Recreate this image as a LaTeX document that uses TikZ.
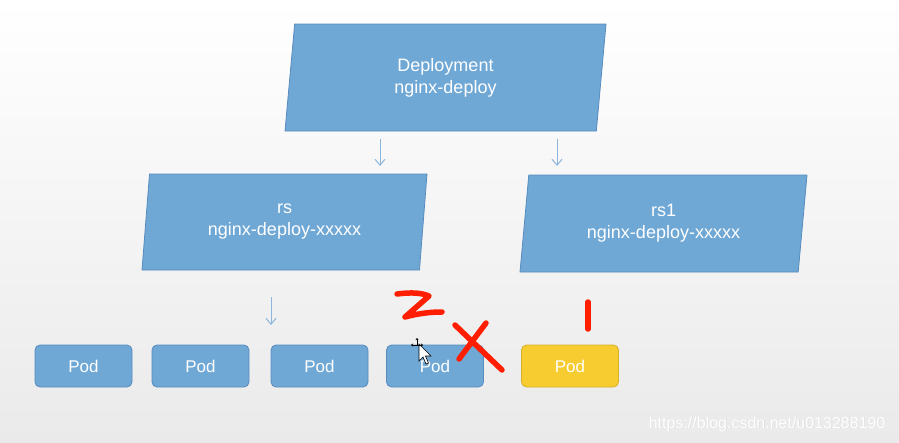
\documentclass[tikz,border=0pt]{standalone}
\usepackage{fontspec}
\setmainfont{Liberation Sans}
\setsansfont{Liberation Sans}
\usetikzlibrary{arrows.meta,shapes.geometric,positioning}

\definecolor{boxblue}{RGB}{111,167,213}
\definecolor{boxedge}{RGB}{88,140,190}
\definecolor{podyellow}{RGB}{246,204,48}
\definecolor{podedge}{RGB}{214,176,40}
\definecolor{arrowblue}{RGB}{140,182,222}
\definecolor{penred}{RGB}{255,30,0}
\definecolor{bgbottom}{RGB}{234,234,234}

\begin{document}
\begin{tikzpicture}[x=1pt,y=-1pt]
\tikzset{
  ctrlnode/.style={trapezium,trapezium left angle=#1,trapezium right angle={180-#1},
    trapezium stretches body,fill=boxblue,draw=boxedge,line width=0.8pt,inner sep=0pt,outer sep=0pt,
    text=white,align=center,font=\sffamily\fontsize{18}{22}\selectfont},
  podnode/.style={rectangle,rounded corners=5pt,fill=boxblue,draw=boxedge,line width=0.8pt,
    minimum width=97pt,minimum height=42pt,inner sep=0pt,outer sep=0pt,
    text=white,font=\sffamily\fontsize{17}{20}\selectfont},
  flowarrow/.style={draw=arrowblue,line width=1pt,-{Straight Barb[length=6pt,width=10pt]}},
  markstroke/.style={draw=penred,line width=5.5pt,line cap=round,line join=round}
}
\useasboundingbox (0,0) rectangle (899,442);
\shade[top color=white,bottom color=bgbottom] (0,0) rectangle (899,442);

% controllers
\node[ctrlnode=76,minimum width=321pt,minimum height=107pt] (n_deploy) at (445.5,77.5) {Deployment\\nginx-deploy};
\node[ctrlnode=78,minimum width=285pt,minimum height=96pt] (n_rs) at (284.5,222) {rs\\nginx-deploy-xxxxx};
\node[ctrlnode=77,minimum width=287pt,minimum height=97pt] (n_rsone) at (663.5,223.5) {rs1\\nginx-deploy-xxxxx};

% pods
\node[podnode] (n_pod0) at (83.5,366) {Pod};
\node[podnode] (n_pod1) at (200.5,366) {Pod};
\node[podnode] (n_pod2) at (319.5,366) {Pod};
\node[podnode] (n_pod3) at (435,366) {Pod};
\node[podnode,fill=podyellow,draw=podedge] (n_pod4) at (570,366) {Pod};

% arrows
\coordinate (a_s0) at (380,139);
\coordinate (a_e0) at (380,166);
\coordinate (a_s1) at (557,139);
\coordinate (a_e1) at (557,166);
\coordinate (a_s2) at (271,297);
\coordinate (a_e2) at (271,325);
\draw[flowarrow] (a_s0) -- (a_e0);
\draw[flowarrow] (a_s1) -- (a_e1);
\draw[flowarrow] (a_s2) -- (a_e2);

% red pen marks
\draw[markstroke] (397,294) .. controls (412,292) and (422,293) .. (429,296) -- (405,317) .. controls (420,313) and (432,312) .. (442,312);
\draw[markstroke] (455,325) -- (502,370);
\draw[markstroke] (486,323) -- (459,359);
\draw[markstroke] (588,302) -- (588,329);

% cursor
\draw[black,line width=0.6pt,fill=white] (419,344) -- (419,361) -- (423,357) -- (426,364) -- (428.5,363) -- (425.5,356) -- (431,356) -- cycle;
\draw[black,line width=0.8pt,-{Stealth[length=2pt,width=3pt]}] (417,345) -- (417,338);
\draw[black,line width=0.8pt,-{Stealth[length=2pt,width=3pt]}] (417,345) -- (411,345);
\draw[black,line width=0.8pt,-{Stealth[length=2pt,width=3pt]}] (417,345) -- (423,345);

% watermark
\node[text=black!12,font=\sffamily\fontsize{16}{18}\selectfont,anchor=east] (n_mark_sh) at (889.8,424.8) {https://blog.csdn.net/u013288190};
\node[text=white,font=\sffamily\fontsize{16}{18}\selectfont,anchor=east] (n_mark) at (889,424) {https://blog.csdn.net/u013288190};
\end{tikzpicture}
\end{document}
